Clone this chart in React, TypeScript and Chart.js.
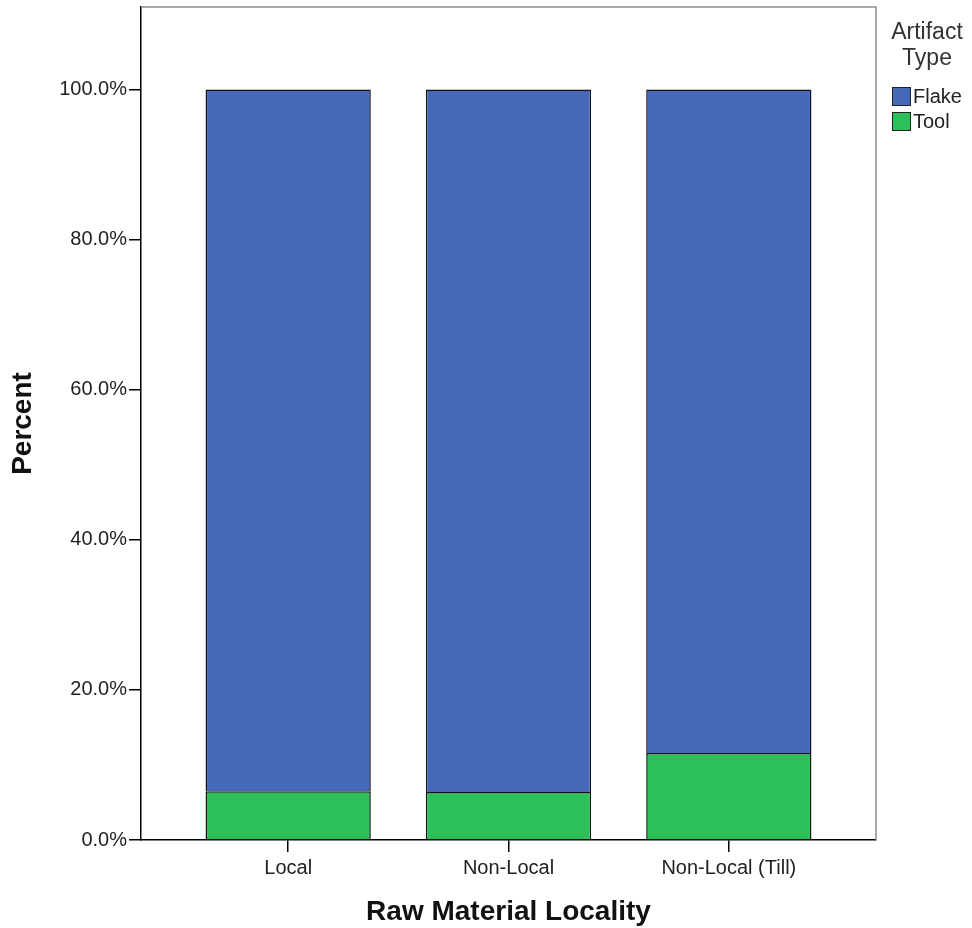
import React, { useEffect, useRef } from "react";
import { Chart, registerables } from "chart.js";

Chart.register(...registerables);

const categories = ["Local", "Non-Local", "Non-Local (Till)"];
const toolPct = [6.5, 6.4, 11.6];
const flakePct = [93.5, 93.6, 88.4];
const yTicks = [0, 20, 40, 60, 80, 100];
const legendTitle = ["Artifact", "Type"];
const seriesNames = ["Flake", "Tool"];
const seriesColors = ["#4569b8", "#2bc05a"];

const FONT = "'Liberation Sans', Arial, sans-serif";

const frameAndLegend = {
  id: "frameAndLegend",
  afterDraw(chart: any) {
    const { ctx, chartArea } = chart;
    ctx.save();
    ctx.strokeStyle = "#8c8c8c";
    ctx.lineWidth = 1.5;
    ctx.beginPath();
    ctx.moveTo(chartArea.left, chartArea.top);
    ctx.lineTo(chartArea.right, chartArea.top);
    ctx.lineTo(chartArea.right, chartArea.bottom);
    ctx.stroke();

    ctx.fillStyle = "#333";
    ctx.font = `23px ${FONT}`;
    ctx.textAlign = "center";
    ctx.textBaseline = "middle";
    ctx.fillText(legendTitle[0], 927, 33);
    ctx.fillText(legendTitle[1], 927, 59);

    const items = [
      { name: seriesNames[0], color: seriesColors[0], y: 87 },
      { name: seriesNames[1], color: seriesColors[1], y: 112 },
    ];
    ctx.font = `20px ${FONT}`;
    ctx.textAlign = "left";
    for (const it of items) {
      ctx.fillStyle = it.color;
      ctx.fillRect(892.5, it.y + 0.5, 18, 18);
      ctx.strokeStyle = "#222";
      ctx.lineWidth = 1;
      ctx.strokeRect(892.5, it.y + 0.5, 18, 18);
      ctx.fillStyle = "#222";
      ctx.fillText(it.name, 913, it.y + 10);
    }
    ctx.restore();
  },
};

export default function App() {
  const ref = useRef<HTMLCanvasElement | null>(null);
  useEffect(() => {
    if (!ref.current) return;
    const chart = new Chart(ref.current, {
      type: "bar",
      data: {
        datasets: [
          {
            label: seriesNames[1],
            data: toolPct.map((v, i) => ({ x: i, y: v })),
            backgroundColor: seriesColors[1],
            borderColor: "#111",
            borderWidth: 1.5,
            categoryPercentage: 1,
            barPercentage: 0.75,
          },
          {
            label: seriesNames[0],
            data: flakePct.map((v, i) => ({ x: i, y: v })),
            backgroundColor: seriesColors[0],
            borderColor: "#111",
            borderWidth: 1.5,
            categoryPercentage: 1,
            barPercentage: 0.75,
          },
        ],
      },
      options: {
        responsive: false,
        animation: false,
        layout: { padding: { left: 0, top: 7, right: 96, bottom: 0 } },
        plugins: { legend: { display: false }, tooltip: { enabled: false } },
        scales: {
          x: {
            type: "linear",
            stacked: true,
            offset: false,
            min: -0.668,
            max: 2.668,
            afterBuildTicks: (s: any) => {
              s.ticks = categories.map((_, i) => ({ value: i }));
            },
            afterFit: (s: any) => {
              s.height = 88;
              s.paddingLeft = 0;
              s.paddingRight = 0;
            },
            grid: {
              offset: false,
              drawOnChartArea: false,
              drawTicks: true,
              tickLength: 12,
              color: "#000",
              lineWidth: 1.5,
            },
            border: { display: true, color: "#000", width: 1.5 },
            ticks: {
              autoSkip: false,
              maxRotation: 0,
              padding: 4,
              color: "#222",
              font: { family: FONT, size: 20 },
              callback: (v: any) => categories[v] ?? "",
            },
            title: {
              display: true,
              text: "Raw Material Locality",
              color: "#111",
              font: { family: FONT, size: 28, weight: "bold", lineHeight: 1 },
              padding: { top: 0, bottom: 2 },
            },
          },
          y: {
            stacked: true,
            min: 0,
            max: 111,
            afterBuildTicks: (s: any) => {
              s.ticks = yTicks.map((v) => ({ value: v }));
            },
            afterFit: (s: any) => {
              s.width = 141;
              s.paddingTop = 0;
              s.paddingBottom = 0;
            },
            grid: {
              drawOnChartArea: false,
              drawTicks: true,
              tickLength: 12,
              color: "#000",
              lineWidth: 1.5,
            },
            border: { display: true, color: "#000", width: 1.5 },
            ticks: {
              padding: 2,
              color: "#222",
              font: { family: FONT, size: 20 },
              callback: (v: any) => `${Number(v).toFixed(1)}%`,
            },
            title: {
              display: true,
              text: "Percent",
              color: "#111",
              font: { family: FONT, size: 28, weight: "bold", lineHeight: 1 },
              padding: { top: 9, bottom: 0 },
            },
          },
        },
      },
      plugins: [frameAndLegend],
    } as any);
    return () => chart.destroy();
  }, []);
  return (
    <div style={{ position: "absolute", left: 0, top: 0, width: 972, height: 928, background: "#fff" }}>
      <canvas ref={ref} width={972} height={928} style={{ width: 972, height: 928, display: "block" }} />
    </div>
  );
}
